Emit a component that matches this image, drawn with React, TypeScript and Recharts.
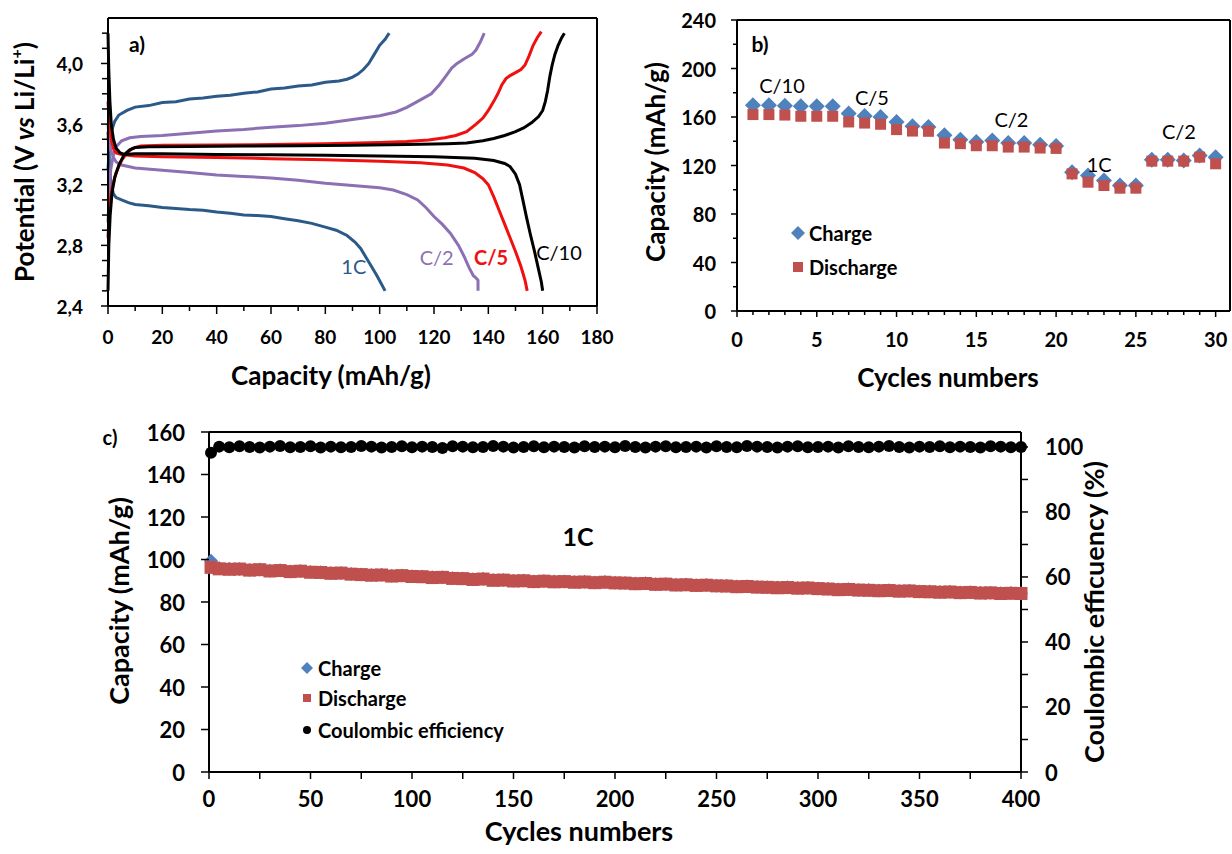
import React from "react";
import {
  LineChart,
  Line,
  ScatterChart,
  Scatter,
  XAxis,
  YAxis,
  ReferenceLine,
  ReferenceDot,
} from "recharts";

const FONT = "Lato, 'Open Sans', sans-serif";

// ---- panel a: charge / discharge profiles, [capacity mAh/g, potential V]
const oneCCharge = [
  [0, 3.3], [0.5, 3.45], [1.2, 3.55], [2.5, 3.62], [4, 3.66], [7, 3.69], [10, 3.712], [15, 3.722],
  [20, 3.742], [25, 3.748], [30, 3.766], [35, 3.772], [40, 3.784], [45, 3.79], [50, 3.803],
  [55, 3.812], [60, 3.832], [65, 3.838], [70, 3.852], [75, 3.858], [80, 3.876], [85, 3.884],
  [88, 3.896], [90, 3.91], [92, 3.93], [94, 3.96], [96, 4.0], [98, 4.06], [100, 4.12], [102, 4.16],
  [103.5, 4.2],
];
const oneCDischarge = [
  [0, 3.55], [0.5, 3.35], [1, 3.22], [2, 3.14], [3, 3.115], [5, 3.1], [7.5, 3.082], [10, 3.07],
  [15, 3.062], [20, 3.05], [25, 3.043], [30, 3.036], [35, 3.031], [40, 3.02], [45, 3.012],
  [50, 3.0], [55, 2.997], [60, 2.99], [65, 2.976], [70, 2.962], [75, 2.945], [80, 2.92],
  [84, 2.9], [88, 2.865], [91, 2.82], [93, 2.78], [95, 2.72], [97, 2.66], [99, 2.6], [100.5, 2.55],
  [102, 2.5],
];
const c2Charge = [
  [0, 2.95], [0.5, 3.15], [1, 3.3], [2, 3.4], [3, 3.45], [5, 3.49], [8, 3.51], [12, 3.518],
  [20, 3.525], [30, 3.54], [40, 3.555], [50, 3.565], [60, 3.58], [70, 3.59], [80, 3.605],
  [90, 3.63], [100, 3.655], [106, 3.68], [110, 3.71], [115, 3.76], [119, 3.8], [122, 3.86],
  [124.5, 3.92], [126.5, 3.97], [128.5, 4.0], [131, 4.03], [134, 4.06], [135.5, 4.09],
  [137, 4.14], [138.5, 4.2],
];
const c2Discharge = [
  [0, 3.6], [0.5, 3.5], [1, 3.43], [2, 3.38], [3, 3.35], [5, 3.33], [10, 3.31], [20, 3.295],
  [30, 3.28], [40, 3.265], [50, 3.255], [60, 3.245], [70, 3.23], [80, 3.21], [90, 3.195],
  [100, 3.18], [105, 3.165], [110, 3.135], [114, 3.1], [117, 3.05], [120, 2.99], [123, 2.94],
  [126, 2.88], [129, 2.8], [131, 2.73], [133, 2.65], [134.5, 2.6], [135.5, 2.585], [136.2, 2.57],
  [136.2, 2.5],
];
const c5Charge = [
  [0, 2.85], [0.5, 3.05], [1.5, 3.18], [3, 3.28], [5, 3.36], [7, 3.41], [9, 3.44], [12, 3.455],
  [20, 3.46], [40, 3.462], [60, 3.465], [80, 3.47], [100, 3.478], [110, 3.485], [118, 3.495],
  [124, 3.51], [128, 3.525], [132, 3.55], [135.5, 3.6], [138, 3.64], [140, 3.69], [142, 3.75],
  [143.5, 3.8], [145, 3.86], [146.5, 3.9], [148, 3.92], [150, 3.94], [152, 3.96], [153.5, 3.99],
  [155, 4.05], [156.5, 4.12], [158, 4.17], [159.5, 4.21],
];
const c5Discharge = [
  [0, 3.75], [0.5, 3.6], [1.2, 3.5], [2, 3.44], [3, 3.41], [5, 3.4], [10, 3.39], [20, 3.385],
  [40, 3.38], [60, 3.372], [80, 3.365], [100, 3.355], [115, 3.345], [125, 3.33], [131, 3.31],
  [135, 3.28], [138, 3.24], [140, 3.2], [142, 3.12], [144, 3.03], [146, 2.94], [148, 2.85],
  [150, 2.76], [152, 2.66], [153.5, 2.57], [154.3, 2.5],
];
const c10Charge = [
  [0, 2.5], [0.3, 2.8], [0.8, 3.0], [1.5, 3.15], [2.5, 3.25], [4, 3.33], [6, 3.4], [8, 3.43],
  [10, 3.445], [15, 3.45], [30, 3.452], [50, 3.455], [70, 3.458], [90, 3.46], [110, 3.465],
  [125, 3.47], [132, 3.475], [138, 3.49], [142, 3.505], [146, 3.525], [150, 3.55], [153, 3.575],
  [156, 3.61], [158.5, 3.65], [160, 3.69], [161, 3.75], [161.8, 3.82], [162.7, 3.92],
  [163.5, 3.99], [164.5, 4.06], [165.7, 4.12], [167, 4.17], [168, 4.2],
];
const c10Discharge = [
  [0, 4.2], [0.3, 3.95], [0.7, 3.75], [1.2, 3.6], [2, 3.5], [3, 3.44], [4.5, 3.41], [6, 3.4],
  [10, 3.405], [20, 3.405], [40, 3.4], [60, 3.398], [80, 3.395], [100, 3.39], [120, 3.385],
  [135, 3.375], [142, 3.36], [146, 3.34], [148, 3.32], [150, 3.27], [151.5, 3.2], [152.7, 3.1],
  [154, 2.99], [155.5, 2.87], [157, 2.76], [158.5, 2.64], [159.5, 2.56], [160, 2.5],
];

// ---- panel b: rate capability
const rateCycles = [
  1, 2, 3, 4, 5, 6, 7, 8, 9, 10, 11, 12, 13, 14, 15, 16, 17, 18, 19, 20, 21, 22, 23, 24, 25, 26,
  27, 28, 29, 30,
];
const rateCharge = [
  169.7, 169.7, 169.2, 168.9, 168.9, 168.9, 162.8, 160.9, 160, 155.9, 152.3, 151.8, 144.9, 141.3,
  139.4, 140.7, 138.5, 138.5, 137.2, 136, 114.5, 111.8, 107.6, 103.5, 103.5, 124.7, 124.7, 124.2,
  128.3, 126.9,
];
const rateDischarge = [
  162, 162, 161.6, 160.6, 160.6, 160.6, 155.9, 155, 154, 149.6, 148.4, 148.2, 138.5, 138, 136.3,
  136.3, 135.2, 135.2, 134.4, 134.1, 113.1, 106.2, 103.5, 101.3, 101.3, 123.6, 123.6, 123.6,
  126.9, 121.4,
];

// ---- panel c: long cycling at 1C (cycle 1, then every 5th cycle)
const longCharge = [
  99.4, 96.0, 95.6, 95.5, 95.1, 95.3, 94.7, 94.9, 94.4, 94.6, 94.1, 94.0, 93.6, 93.7, 93.2, 93.0,
  92.7, 92.8, 92.3, 92.5, 92.1, 92.0, 91.6, 91.7, 91.2, 91.1, 90.7, 90.9, 90.3, 90.4, 90.0, 90.1,
  89.7, 89.9, 89.6, 89.7, 89.4, 89.5, 89.2, 89.4, 89.1, 89.0, 88.7, 88.8, 88.4, 88.5, 88.1, 88.2,
  87.9, 88.0, 87.7, 87.6, 87.3, 87.4, 87.1, 87.0, 86.8, 86.9, 86.6, 86.7, 86.4, 86.2, 85.9, 86.0,
  85.7, 85.6, 85.4, 85.5, 85.2, 85.3, 85.0, 84.9, 84.7, 84.8, 84.5, 84.6, 84.3, 84.4, 84.1, 84.2,
  84.1,
];
const longDischarge = [
  96.3, 95.6, 95.4, 95.5, 95.0, 95.2, 94.6, 94.8, 94.3, 94.5, 94.0, 93.9, 93.5, 93.6, 93.1, 92.9,
  92.6, 92.7, 92.2, 92.4, 92.0, 91.9, 91.5, 91.6, 91.1, 91.0, 90.6, 90.8, 90.2, 90.3, 89.9, 90.0,
  89.6, 89.8, 89.5, 89.6, 89.3, 89.4, 89.1, 89.3, 89.0, 88.9, 88.6, 88.7, 88.3, 88.4, 88.0, 88.1,
  87.8, 87.9, 87.6, 87.5, 87.2, 87.3, 87.0, 86.9, 86.7, 86.8, 86.5, 86.6, 86.3, 86.1, 85.8, 85.9,
  85.6, 85.5, 85.3, 85.4, 85.1, 85.2, 84.9, 84.8, 84.6, 84.7, 84.4, 84.5, 84.2, 84.3, 84.0, 84.1,
  84.0,
];
const longEfficiency = [
  98.2, 100.1, 99.9, 100.2, 100.0, 99.8, 100.1, 100.3, 99.9, 100.0, 100.2, 99.8, 100.1, 99.9,
  100.0, 100.3, 100.1, 99.8, 100.0, 100.2, 99.9, 100.1, 100.0, 99.7, 100.2, 100.1, 99.9, 100.0,
  100.3, 100.1, 99.8, 100.0, 100.2, 99.9, 100.1, 100.0, 99.8, 100.2, 100.0, 100.1, 99.9, 100.3,
  100.0, 99.8, 100.1, 100.2, 99.9, 100.0, 100.1, 99.8, 100.2, 100.0, 99.9, 100.3, 100.1, 100.0,
  99.8, 100.1, 100.2, 99.9, 100.0, 100.1, 99.8, 100.2, 100.0, 99.9, 100.1, 100.3, 100.0, 99.8,
  100.1, 100.0, 100.2, 99.9, 100.1, 100.0, 99.8, 100.2, 100.1, 99.9, 100.0,
];

const pts = (arr: number[][]) => arr.map(([c, v]) => ({ c, v }));
const rateData = (vals: number[]) => vals.map((y, i) => ({ x: rateCycles[i], y }));
const longData = (vals: number[]) => vals.map((y, i) => ({ x: i === 0 ? 1 : i * 5, y }));

const BLUE = "#4F81BD";
const RED = "#C0504D";

// ---- tick helpers (axis line point comes in as x/y because tickSize/tickMargin are 0)
const isStep = (v: number, base: number, step: number) =>
  Math.abs((v - base) / step - Math.round((v - base) / step)) < 1e-6;

function bottomTick(major: (v: number) => boolean, fmt: (v: number) => string, fs: number, off: number, len: number, minorLen: number) {
  return (p: any) => {
    const v = p.payload.value;
    const m = major(v);
    return (
      <g>
        <line x1={p.x} x2={p.x} y1={p.y} y2={p.y + (m ? len : minorLen)} stroke="#000" strokeWidth={1.5} />
        {m && (
          <text x={p.x} y={p.y + off} textAnchor="middle" dominantBaseline="central" fontFamily={FONT} fontWeight={700} fontSize={fs} fill="#000">
            {fmt(v)}
          </text>
        )}
      </g>
    );
  };
}

function sideTick(side: "left" | "right", major: (v: number) => boolean, fmt: (v: number) => string, fs: number, off: number, len: number, minorLen: number) {
  const s = side === "left" ? -1 : 1;
  return (p: any) => {
    const v = p.payload.value;
    const m = major(v);
    return (
      <g>
        <line x1={p.x} x2={p.x + s * (m ? len : minorLen)} y1={p.y} y2={p.y} stroke="#000" strokeWidth={1.5} />
        {m && (
          <text x={p.x + s * off} y={p.y} textAnchor={side === "left" ? "end" : "start"} dominantBaseline="central" fontFamily={FONT} fontWeight={700} fontSize={fs} fill="#000">
            {fmt(v)}
          </text>
        )}
      </g>
    );
  };
}

const diamond = (r: number, color: string) => (p: any) =>
  <path d={`M${p.cx},${p.cy - r}L${p.cx + r},${p.cy}L${p.cx},${p.cy + r}L${p.cx - r},${p.cy}Z`} fill={color} />;
const square = (r: number, color: string) => (p: any) =>
  <rect x={p.cx - r} y={p.cy - r} width={2 * r} height={2 * r} fill={color} />;
const circle = (r: number, color: string) => (p: any) => <circle cx={p.cx} cy={p.cy} r={r} fill={color} />;

const note = (value: string, fill: string, fontSize: number, fontWeight = 400) => ({
  value,
  position: "center" as const,
  fill,
  fontSize,
  fontWeight,
  fontFamily: FONT,
});

const aXTicks = [0, 10, 20, 30, 40, 50, 60, 70, 80, 90, 100, 110, 120, 130, 140, 150, 160, 170, 180];
const aYTicks = [2.4, 2.5, 2.6, 2.7, 2.8, 2.9, 3.0, 3.1, 3.2, 3.3, 3.4, 3.5, 3.6, 3.7, 3.8, 3.9, 4.0, 4.1, 4.2];
const bXTicks = rateCycles.slice();
bXTicks.unshift(0);
const bYTicks = [0, 20, 40, 60, 80, 100, 120, 140, 160, 180, 200, 220, 240];
const cXTicks = [0, 25, 50, 75, 100, 125, 150, 175, 200, 225, 250, 275, 300, 325, 350, 375, 400];
const cYTicks = [0, 20, 40, 60, 80, 100, 120, 140, 160];
const cY2Ticks = [0, 10, 20, 30, 40, 50, 60, 70, 80, 90, 100];

const curves = [
  { d: oneCCharge, color: "#2C5A88" },
  { d: oneCDischarge, color: "#2C5A88" },
  { d: c2Charge, color: "#8C70B4" },
  { d: c2Discharge, color: "#8C70B4" },
  { d: c5Charge, color: "#F01010" },
  { d: c5Discharge, color: "#F01010" },
  { d: c10Charge, color: "#000000" },
  { d: c10Discharge, color: "#000000" },
];

const title = { fontFamily: FONT, fontWeight: 700, fontSize: 26, fill: "#000" };

export default function App() {
  return (
    <div style={{ position: "absolute", left: 0, top: 0, width: 1232, height: 854, background: "#fff" }}>
      {/* a) */}
      <div style={{ position: "absolute", left: 0, top: 0 }}>
        <LineChart width={620} height={400} margin={{ top: 18, right: 23, bottom: 54, left: 48 }}>
          <XAxis dataKey="c" type="number" domain={[0, 180]} ticks={aXTicks} interval={0} height={40}
            tickSize={0} tickMargin={0} tickLine={false} axisLine={{ stroke: "#000", strokeWidth: 2 }}
            tick={bottomTick((v) => v % 20 === 0, (v) => String(v), 19, 30, 8, 5)} />
          <YAxis type="number" domain={[2.4, 4.3]} ticks={aYTicks} interval={0} width={60}
            tickSize={0} tickMargin={0} tickLine={false} axisLine={{ stroke: "#000", strokeWidth: 2 }}
            tick={sideTick("left", (v) => isStep(v, 2.4, 0.4), (v) => v.toFixed(1).replace(".", ","), 19, 25, 7, 6)} />
          <ReferenceLine y={4.3} stroke="#000" strokeWidth={2} />
          <ReferenceLine x={180} stroke="#000" strokeWidth={2} />
          {curves.map((s, i) => (
            <Line key={i} data={pts(s.d)} dataKey="v" type="linear" dot={false} stroke={s.color}
              strokeWidth={3} isAnimationActive={false} />
          ))}
          <ReferenceDot x={90.5} y={2.66} r={0} fillOpacity={0} strokeOpacity={0} label={note("1C", "#2C5A88", 20)} />
          <ReferenceDot x={121} y={2.72} r={0} fillOpacity={0} strokeOpacity={0} label={note("C/2", "#8C70B4", 20)} />
          <ReferenceDot x={141} y={2.72} r={0} fillOpacity={0} strokeOpacity={0} label={note("C/5", "#F01010", 20, 700)} />
          <ReferenceDot x={166} y={2.75} r={0} fillOpacity={0} strokeOpacity={0} label={note("C/10", "#000", 20)} />
        </LineChart>
      </div>

      {/* b) */}
      <div style={{ position: "absolute", left: 620, top: 0 }}>
        <ScatterChart width={612} height={400} margin={{ top: 20, right: 2, bottom: 49, left: 57 }}>
          <XAxis dataKey="x" type="number" domain={[0, 30.9]} ticks={bXTicks} interval={0} height={40}
            tickSize={0} tickMargin={0} tickLine={false} axisLine={{ stroke: "#000", strokeWidth: 2 }}
            tick={bottomTick((v) => v % 5 === 0, (v) => String(v), 20, 28, 6, 4)} />
          <YAxis dataKey="y" type="number" domain={[0, 240]} ticks={bYTicks} interval={0} width={60}
            tickSize={0} tickMargin={0} tickLine={false} axisLine={{ stroke: "#000", strokeWidth: 2 }}
            tick={sideTick("left", (v) => v % 40 === 0, (v) => String(v), 20, 21, 6, 4)} />
          <ReferenceLine y={240} stroke="#000" strokeWidth={2} />
          <ReferenceLine x={30.9} stroke="#000" strokeWidth={2} />
          <Scatter data={rateData(rateCharge)} shape={diamond(8, BLUE)} isAnimationActive={false} />
          <Scatter data={rateData(rateDischarge)} shape={square(5.5, RED)} isAnimationActive={false} />
          <ReferenceDot x={2.82} y={185.4} r={0} fillOpacity={0} strokeOpacity={0} label={note("C/10", "#000", 20)} />
          <ReferenceDot x={8.46} y={175.5} r={0} fillOpacity={0} strokeOpacity={0} label={note("C/5", "#000", 20)} />
          <ReferenceDot x={17.2} y={157.3} r={0} fillOpacity={0} strokeOpacity={0} label={note("C/2", "#000", 20)} />
          <ReferenceDot x={22.7} y={120.9} r={0} fillOpacity={0} strokeOpacity={0} label={note("1C", "#000", 20)} />
          <ReferenceDot x={27.7} y={147.4} r={0} fillOpacity={0} strokeOpacity={0} label={note("C/2", "#000", 20)} />
        </ScatterChart>
      </div>

      {/* c) */}
      <div style={{ position: "absolute", left: 0, top: 420 }}>
        <ScatterChart width={1232} height={434} margin={{ top: 12, right: 151, bottom: 42, left: 149 }}>
          <XAxis dataKey="x" type="number" domain={[0, 400]} ticks={cXTicks} interval={0} height={40}
            tickSize={0} tickMargin={0} tickLine={false} axisLine={{ stroke: "#000", strokeWidth: 2 }}
            tick={bottomTick((v) => v % 50 === 0, (v) => String(v), 22, 26, 7, 7)} />
          <YAxis yAxisId="cap" dataKey="y" type="number" domain={[0, 160]} ticks={cYTicks} interval={0} width={60}
            tickSize={0} tickMargin={0} tickLine={false} axisLine={{ stroke: "#000", strokeWidth: 2 }}
            tick={sideTick("left", () => true, (v) => String(v), 22, 24, 8, 8)} />
          <YAxis yAxisId="ce" orientation="right" dataKey="y" type="number" domain={[0, 104.6]} ticks={cY2Ticks}
            interval={0} width={60} tickSize={0} tickMargin={0} tickLine={false}
            axisLine={{ stroke: "#000", strokeWidth: 2 }}
            tick={sideTick("right", (v) => v % 20 === 0, (v) => String(v), 22, 24, 7, 7)} />
          <ReferenceLine yAxisId="cap" y={160} stroke="#000" strokeWidth={2} />
          <Scatter yAxisId="ce" data={longData(longEfficiency)} shape={circle(6, "#000")} isAnimationActive={false} />
          <Scatter yAxisId="cap" data={longData(longCharge)} shape={diamond(7, BLUE)} isAnimationActive={false} />
          <Scatter yAxisId="cap" data={longData(longDischarge)} shape={square(6.5, RED)} isAnimationActive={false} />
          <ReferenceDot yAxisId="cap" x={181.8} y={110.6} r={0} fillOpacity={0} strokeOpacity={0} label={note("1C", "#000", 25, 700)} />
        </ScatterChart>
      </div>

      {/* titles, panel letters and legends */}
      <svg width={1232} height={854} style={{ position: "absolute", left: 0, top: 0, pointerEvents: "none" }}>
        <text {...title} textAnchor="middle" dominantBaseline="central" transform="translate(24,162) rotate(-90)">
          Potential (V <tspan fontStyle="italic">vs</tspan> Li/Li<tspan dy={-9} fontSize={16}>+</tspan><tspan dy={9}>)</tspan>
        </text>
        <text {...title} x={331} y={375} textAnchor="middle" dominantBaseline="central">Capacity (mAh/g)</text>
        <text {...title} textAnchor="middle" dominantBaseline="central" transform="translate(655,162) rotate(-90)">Capacity (mAh/g)</text>
        <text {...title} x={948} y={377} textAnchor="middle" dominantBaseline="central">Cycles numbers</text>
        <text {...title} fontSize={27} textAnchor="middle" dominantBaseline="central" transform="translate(118,601) rotate(-90)">Capacity (mAh/g)</text>
        <text {...title} fontSize={27} x={579} y={830} textAnchor="middle" dominantBaseline="central">Cycles numbers</text>
        <text {...title} fontSize={27} textAnchor="middle" dominantBaseline="central" transform="translate(1093,612) rotate(-90)">Coulombic efficuency (%)</text>

        <text fontFamily={FONT} fontSize={21} fontWeight={700} x={137} y={43} textAnchor="middle" dominantBaseline="central">a)</text>
        <text fontFamily={FONT} fontSize={21} fontWeight={700} x={760} y={43} textAnchor="middle" dominantBaseline="central">b)</text>
        <text fontFamily={FONT} fontSize={20} fontWeight={700} x={110} y={437} textAnchor="middle" dominantBaseline="central">c)</text>

        <g fontFamily={FONT} fontWeight={700} fontSize={20}>
          <path d="M798,226 L805,233 L798,240 L791,233 Z" fill={BLUE} />
          <text x={809} y={233} dominantBaseline="central">Charge</text>
          <rect x={793} y={262} width={10} height={10} fill={RED} />
          <text x={809} y={267} dominantBaseline="central">Discharge</text>

          <path d="M307,662 L313,668 L307,674 L301,668 Z" fill={BLUE} />
          <text x={318} y={668} dominantBaseline="central">Charge</text>
          <rect x={303} y={694} width={8} height={8} fill={RED} />
          <text x={318} y={698} dominantBaseline="central">Discharge</text>
          <circle cx={307} cy={730} r={4} fill="#000" />
          <text x={318} y={730} dominantBaseline="central">Coulombic efficiency</text>
        </g>
      </svg>
    </div>
  );
}
